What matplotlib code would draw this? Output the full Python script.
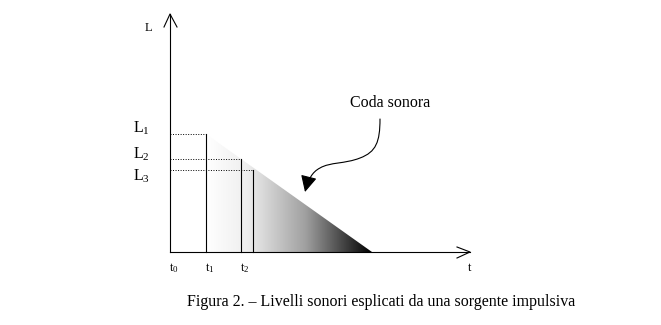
import numpy as np
import matplotlib.pyplot as plt
from matplotlib.path import Path
from matplotlib.patches import Polygon, FancyArrowPatch
from matplotlib.colors import LinearSegmentedColormap

plt.rcParams['font.family'] = 'Liberation Serif'
plt.rcParams['mathtext.fontset'] = 'custom'
plt.rcParams['mathtext.rm'] = 'Liberation Serif'
plt.rcParams['mathtext.it'] = 'Liberation Serif'

# istanti e livelli (unita' schematiche)
t_labels = ['$t_0$', '$t_1$', '$t_2$']
t_values = [0, 36, 71]
t_third = 83          # terza verticale, senza etichetta
t_end = 202           # fine della coda sonora
L_labels = ['$L_1$', '$L_2$', '$L_3$']
L_values = [118, 93, 82]
x_max, y_max = 300, 238

fig = plt.figure(figsize=(6.61, 3.25), dpi=100)
ax = fig.add_axes([0, 0, 1, 1])
ax.set_xlim(-170, 491)
ax.set_ylim(-73, 252)
ax.axis('off')

# ------------------------------
# coda sonora (triangolo sfumato)
# ------------------------------
cmap = LinearSegmentedColormap.from_list(
    'coda', [(0, 'white'), (0.25, '#eeeeee'), (0.6, '#a0a0a0'), (1, 'black')])
grad = np.linspace(0, 1, 256).reshape(1, -1)
img = ax.imshow(grad, cmap=cmap, aspect='auto',
                extent=[t_values[1], t_end, 0, L_values[0]], zorder=1)
tri = Polygon([(t_values[1], L_values[0]), (t_end, 0), (t_values[1], 0)],
              closed=True, transform=ax.transData, facecolor='none', edgecolor='none')
ax.add_patch(tri)
img.set_clip_path(tri)

# ------------------------------
# assi con frecce aperte
# ------------------------------
lw = 0.8
ax.plot([0, 0], [0, y_max], color='black', lw=lw, zorder=3)
ax.plot([0, x_max], [0, 0], color='black', lw=lw, zorder=3)
ax.plot([-6, 0, 7], [y_max - 13, y_max, y_max - 13], color='black', lw=lw, zorder=3)
ax.plot([x_max - 13, x_max, x_max - 13], [5, 0, -6], color='black', lw=lw, zorder=3)

# verticali
vert_t = [t_values[1], t_values[2], t_third]
for t, L in zip(vert_t, L_values):
    ax.plot([t, t], [0, L], color='black', lw=lw, zorder=3)
    ax.plot([0, t], [L, L], color='black', lw=0.7, ls=(0, (1, 1.6)), zorder=3)

# etichette
ax.text(-22, 224, 'L', fontsize=9, ha='center', va='center')
for lab, L, dy in zip(L_labels, L_values, [6, 5, -6]):
    ax.text(-29, L + dy, lab, fontsize=11.5, ha='center', va='center')
for lab, t in zip(t_labels, t_values):
    ax.text(t + 4, -16, lab, fontsize=9, ha='center', va='center')
ax.text(x_max, -16, 't', fontsize=9, ha='center', va='center')

# ------------------------------
# freccia curva "Coda sonora"
# ------------------------------
ax.text(220, 149, 'Coda sonora', fontsize=11.5, ha='center', va='center')
verts = [(210, 133), (210, 110), (206, 100), (190, 94),
         (175, 88), (160, 90), (150, 84),
         (142, 80), (138, 72), (135, 60)]
codes = [Path.MOVETO] + [Path.CURVE4] * 9
arrow = FancyArrowPatch(path=Path(verts, codes), arrowstyle='-|>,head_length=10,head_width=5',
                        color='black', lw=0.8, zorder=4)
ax.add_patch(arrow)

# didascalia
ax.text(211, -50, 'Figura 2. \u2013 Livelli sonori esplicati da una sorgente impulsiva',
        fontsize=11.5, ha='center', va='center')

fig.savefig('out.png', dpi=100)
